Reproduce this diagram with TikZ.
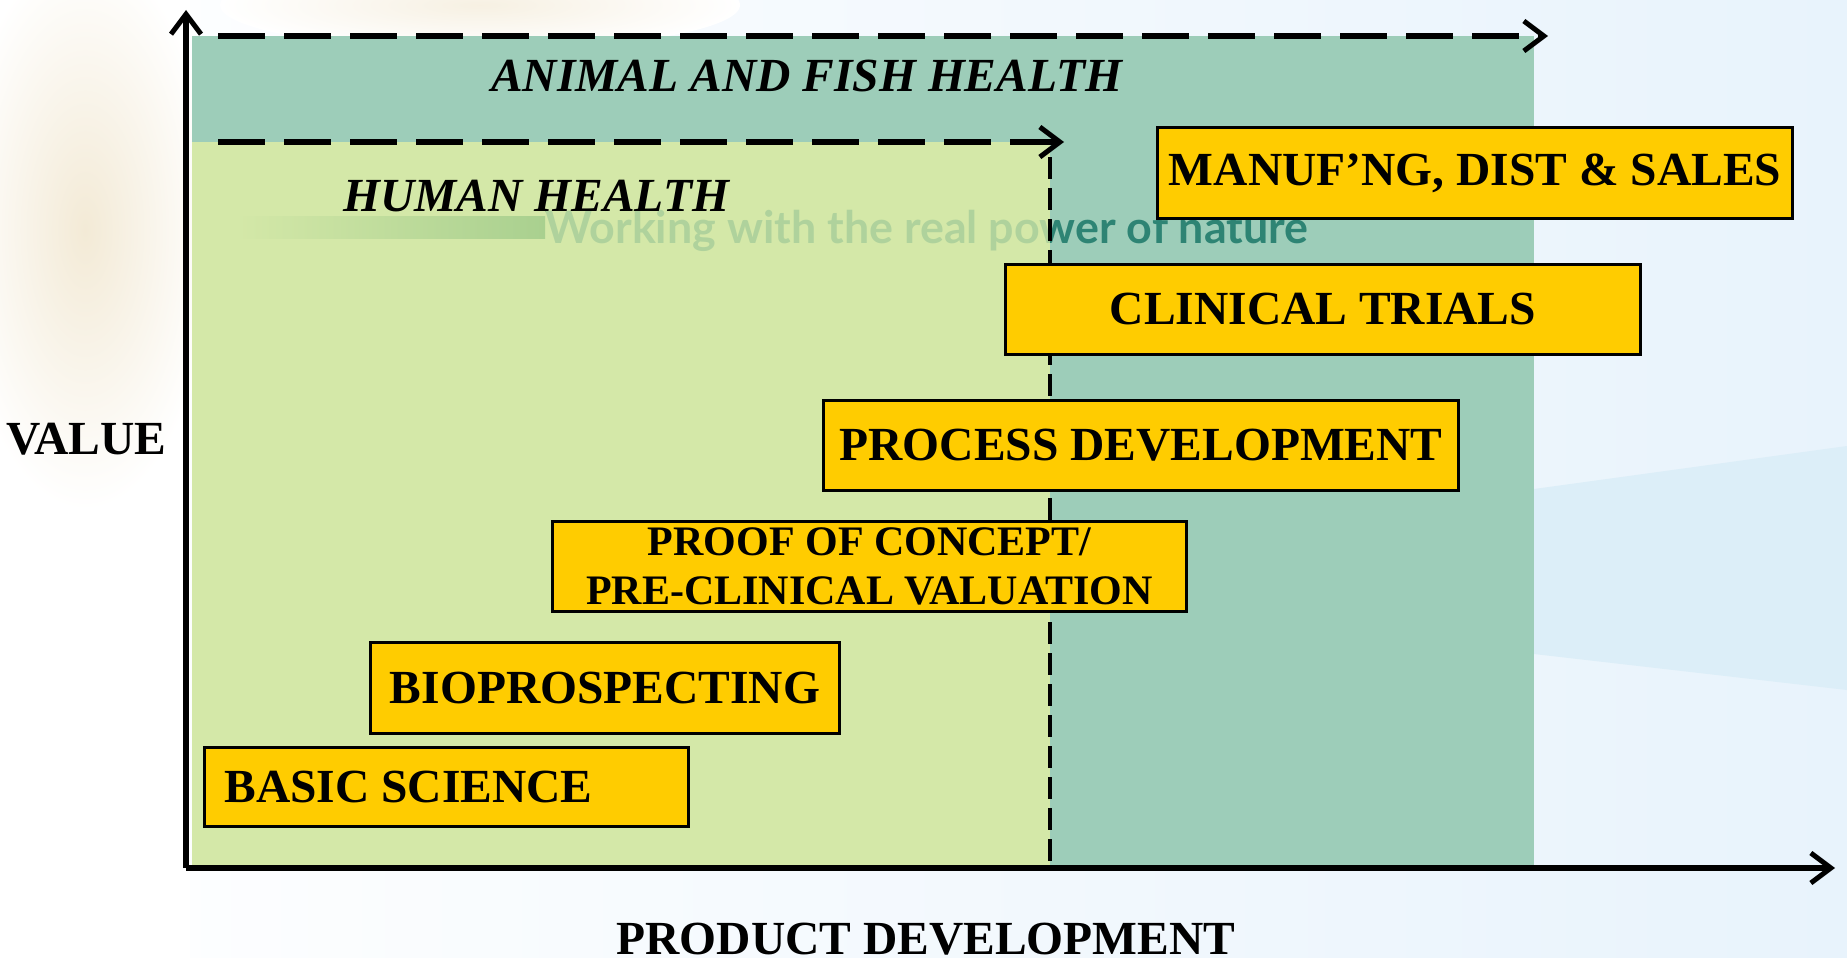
\documentclass[tikz,border=0pt]{standalone}
\usepackage{fontspec}
\usepackage{graphicx}
\setmainfont{Liberation Serif}
\newfontfamily\wmfont{Lato}
\usetikzlibrary{arrows.meta}
\definecolor{gold}{HTML}{FFCC00}
\definecolor{hgreen}{HTML}{D4E8A8}
\definecolor{tealreg}{HTML}{9DCDB9}
\definecolor{skyb}{HTML}{E8F3FC}
\definecolor{bandb}{HTML}{DCEEF8}
\definecolor{beige}{HTML}{F3EAD6}
\definecolor{wmdark}{HTML}{2E8474}
\definecolor{barg}{HTML}{A9D08F}
\begin{document}
\begin{tikzpicture}[x=1pt,y=-1pt,
  gbox/.style={draw=black, line width=3pt, fill=gold, inner sep=0pt, anchor=north west,
    text=black, font=\fontsize{47.5}{50}\selectfont\bfseries},
  pbox/.style={gbox, align=center, font=\fontsize{42}{49.5}\selectfont\bfseries},
  axislbl/.style={inner sep=0pt, font=\fontsize{47.5}{50}\selectfont\bfseries},
  regionlbl/.style={inner sep=0pt, anchor=base west, font=\fontsize{47.5}{50}\selectfont\bfseries\itshape},
  wmtext/.style={inner sep=0pt, anchor=base west},
  barb/.tip={Straight Barb[length=20pt, width=30pt, line width=5pt]},
  axisline/.style={line width=6pt, -barb},
  dasharrow/.style={line width=6pt, dash pattern=on 47pt off 19pt, -barb},
  vdash/.style={line width=4pt, dash pattern=on 22pt off 9pt}
]
\useasboundingbox (0,0) rectangle (1847,958);
% background
\shade[left color=white, right color=skyb] (0,0) rectangle (1847,958);
\fill[white] (0,0) rectangle (190,958);
\shade[inner color=beige, outer color=white] (85,230) ellipse [x radius=130pt, y radius=280pt];
\shade[inner color=beige!70!white, outer color=white] (480,5) ellipse [x radius=260pt, y radius=45pt];
\fill[bandb] (1534,489) -- (1847,446) -- (1847,690) -- (1534,654) -- cycle;
% regions
\fill[tealreg] (192,36) rectangle (1534,868);
\fill[hgreen] (192,142) rectangle (1050,868);
% watermark
\fill[left color=hgreen, right color=barg] (236,216) rectangle (545,238);
\node[wmtext, text=wmdark] (wm) at (545,243) {\resizebox{763pt}{!}{\wmfont\bfseries Working with the real power of nature}};
\fill[hgreen, opacity=0.78] (546,195) rectangle (1050,262);
% region labels
\node[regionlbl] (animal) at (491,92) {ANIMAL AND FISH HEALTH};
\node[regionlbl] (human) at (343,211) {HUMAN HEALTH};
% dashed lines
\coordinate (a1) at (218,36);
\coordinate (a2) at (1548,36);
\coordinate (h1) at (218,142);
\coordinate (h2) at (1064,142);
\coordinate (v1) at (1050,157);
\coordinate (v2) at (1050,866);
\draw[dasharrow] (a1) -- (a2);
\draw[dasharrow] (h1) -- (h2);
\draw[vdash] (v1) -- (v2);
% axes
\coordinate (o) at (186,868);
\coordinate (ytip) at (186,10);
\coordinate (xtip) at (1835,868);
\draw[axisline] (o) -- (ytip);
\draw[axisline] (o) -- (xtip);
% boxes
\node[gbox, minimum width=635pt, minimum height=91pt] (manuf) at (1156,126) {MANUF’NG, DIST \& SALES};
\node[gbox, minimum width=635pt, minimum height=90pt] (clin) at (1004,263) {CLINICAL TRIALS};
\node[gbox, minimum width=635pt, minimum height=90pt] (proc) at (822,399) {PROCESS DEVELOPMENT};
\node[pbox, minimum width=634pt, minimum height=90pt] (proof) at (551,520) {PROOF OF CONCEPT/\\PRE-CLINICAL VALUATION};
\node[gbox, minimum width=469pt, minimum height=91pt] (bio) at (369,641) {BIOPROSPECTING};
\node[gbox, minimum width=484pt, minimum height=79pt, inner xsep=20pt] (basic) at (203,746) {\makebox[444pt][l]{BASIC SCIENCE}};
% axis labels
\node[axislbl, anchor=west] (value) at (6,439) {VALUE};
\node[axislbl, anchor=base] (prod) at (926,954) {PRODUCT DEVELOPMENT};
\end{tikzpicture}
\end{document}
